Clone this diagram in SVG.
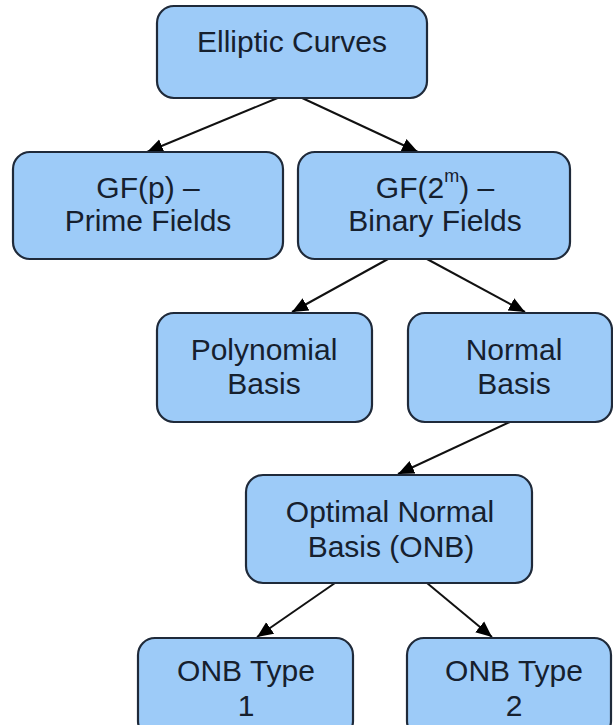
<svg xmlns="http://www.w3.org/2000/svg" width="613" height="725" viewBox="0 0 613 725">
<style>
.box{fill:#9dcbf8;stroke:#1f2a3a;stroke-width:2.2}
.t{font-family:"Liberation Sans",Arial,sans-serif;font-size:30px;fill:#16202e;text-anchor:middle}
.sup{font-size:18px}
.edge{stroke:#111;stroke-width:2;fill:none;marker-end:url(#ah)}
</style>
<defs>
<marker id="ah" markerUnits="userSpaceOnUse" markerWidth="18" markerHeight="18" viewBox="0 0 18 18" refX="16" refY="9" orient="auto">
<path d="M0,2 L16,9 L0,16 Z" fill="#000"/>
</marker>
</defs>
<rect width="613" height="725" fill="#fff"/>
<g id="connectors">
<line class="edge" x1="280" y1="97" x2="147" y2="152"/>
<line class="edge" x1="300" y1="97" x2="418" y2="152"/>
<line class="edge" x1="388" y1="259" x2="292" y2="312"/>
<line class="edge" x1="427" y1="259" x2="525" y2="312"/>
<line class="edge" x1="512" y1="421" x2="398" y2="474"/>
<line class="edge" x1="335" y1="583" x2="257" y2="637"/>
<line class="edge" x1="427" y1="583" x2="492" y2="637"/>
</g>
<g id="elliptic-curves">
<rect class="box" x="157" y="6" width="270" height="92" rx="17"/>
<text class="t" x="292" y="52">Elliptic Curves</text>
</g>
<g id="gf-p">
<rect class="box" x="13" y="152" width="270" height="107" rx="17"/>
<text class="t" x="148" y="198">GF(p) –</text>
<text class="t" x="148" y="231">Prime Fields</text>
</g>
<g id="gf-2m">
<rect class="box" x="298" y="152" width="272" height="107" rx="17"/>
<text class="t" x="435" y="198">GF(2<tspan class="sup" dy="-16">m</tspan><tspan dy="16">) –</tspan></text>
<text class="t" x="435" y="231">Binary Fields</text>
</g>
<g id="polynomial-basis">
<rect class="box" x="157" y="313" width="215" height="109" rx="17"/>
<text class="t" x="264" y="360">Polynomial</text>
<text class="t" x="264" y="394">Basis</text>
</g>
<g id="normal-basis">
<rect class="box" x="408" y="313" width="204" height="109" rx="17"/>
<text class="t" x="514" y="360">Normal</text>
<text class="t" x="514" y="394">Basis</text>
</g>
<g id="onb">
<rect class="box" x="246" y="475" width="286" height="108" rx="17"/>
<text class="t" x="390" y="522">Optimal Normal</text>
<text class="t" x="391" y="557">Basis (ONB)</text>
</g>
<g id="onb-type-1">
<rect class="box" x="138" y="638" width="215" height="100" rx="17"/>
<text class="t" x="246" y="681">ONB Type</text>
<text class="t" x="246" y="716">1</text>
</g>
<g id="onb-type-2">
<rect class="box" x="407" y="638" width="204" height="100" rx="17"/>
<text class="t" x="514" y="681">ONB Type</text>
<text class="t" x="514" y="716">2</text>
</g>
</svg>
